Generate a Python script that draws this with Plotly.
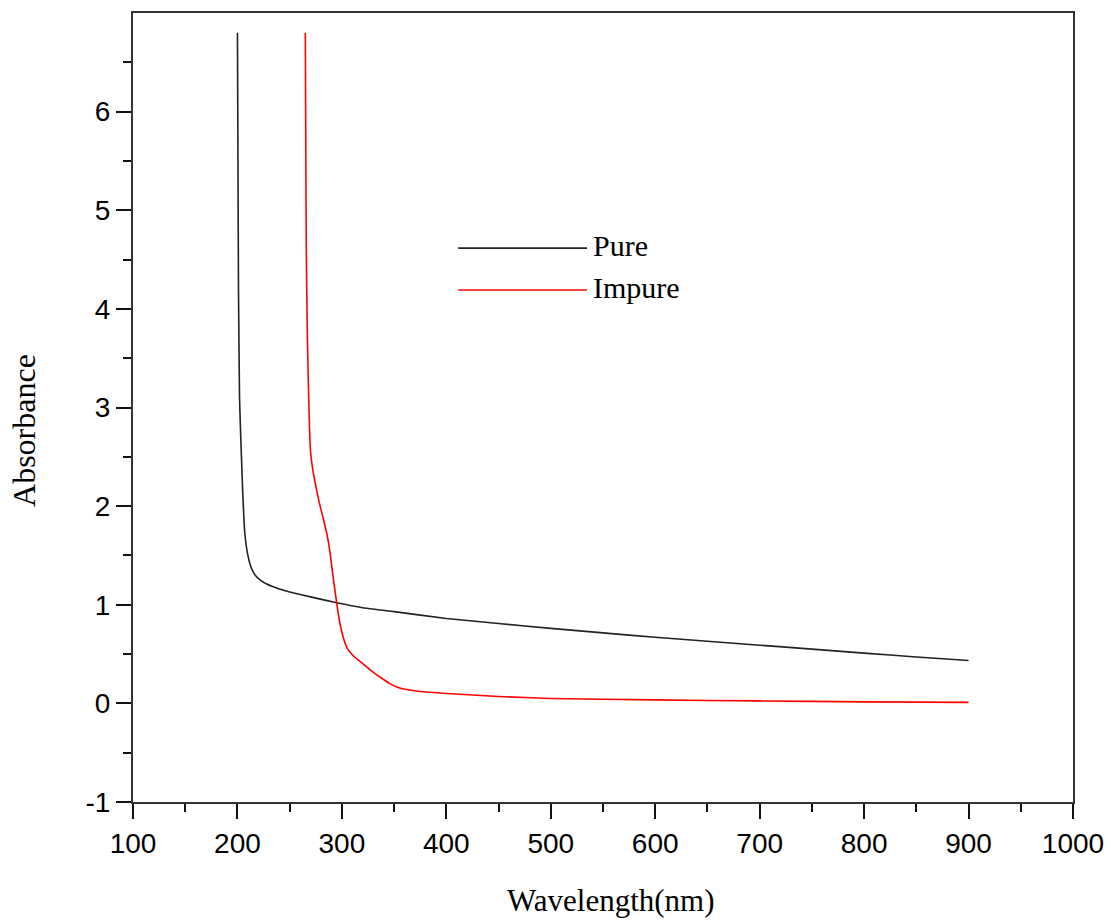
import plotly.graph_objects as go

wl_pure = [200, 200.5, 201, 202, 203, 204, 205, 207, 210, 213, 217, 222, 228, 240, 250,
           270, 295, 320, 350, 400, 450, 500, 550, 600, 650, 700, 750, 800, 850, 900]
abs_pure = [6.8, 5.5, 4.2, 3.1, 2.75, 2.45, 2.15, 1.73, 1.5, 1.38, 1.3, 1.25, 1.21, 1.16, 1.13,
            1.08, 1.02, 0.97, 0.93, 0.86, 0.81, 0.76, 0.715, 0.67, 0.63, 0.59, 0.55, 0.51, 0.47, 0.435]

wl_imp = [265, 265.5, 266, 267, 268, 269, 270, 272, 274, 278, 282, 286, 289, 292, 295, 298, 301,
          305, 311, 318, 327, 336, 346, 354, 362, 375, 400, 450, 500, 600, 700, 800, 900]
abs_imp = [6.8, 5.5, 4.5, 3.7, 3.2, 2.8, 2.55, 2.38, 2.26, 2.05, 1.88, 1.7, 1.5, 1.25, 1.02, 0.82, 0.68,
           0.56, 0.48, 0.42, 0.34, 0.27, 0.2, 0.16, 0.14, 0.12, 0.1, 0.07, 0.05, 0.035, 0.025, 0.015, 0.01]

x_ticks = [100, 200, 300, 400, 500, 600, 700, 800, 900, 1000]
x_minor = [150, 250, 350, 450, 550, 650, 750, 850, 950]
y_ticks = [-1, 0, 1, 2, 3, 4, 5, 6]
y_ticklabels = ["-1", "0", "1", "2", "3", "4", "5", "6"]
y_minor = [-0.5, 0.5, 1.5, 2.5, 3.5, 4.5, 5.5, 6.5]

x_title = "Wavelength(nm)"
y_title = "Absorbance"

series_names = ["Pure", "Impure"]
series_colors = ["#222222", "#ff0000"]

fig = go.Figure()
fig.add_trace(go.Scatter(x=wl_pure, y=abs_pure, mode="lines", name=series_names[0],
                         line=dict(color=series_colors[0], width=1.6, shape="spline", smoothing=0.4)))
fig.add_trace(go.Scatter(x=wl_imp, y=abs_imp, mode="lines", name=series_names[1],
                         line=dict(color=series_colors[1], width=1.6, shape="spline", smoothing=0.4)))

# custom legend (long sample lines)
leg_y = [0.702, 0.649]
for name, col, yy in zip(series_names, series_colors, leg_y):
    fig.add_shape(type="line", xref="paper", yref="paper", x0=0.346, x1=0.483, y0=yy, y1=yy,
                  line=dict(color=col, width=1.6))
    fig.add_annotation(xref="paper", yref="paper", x=0.487, y=yy + 0.003, text=name, showarrow=False,
                       xanchor="left", yanchor="middle",
                       font=dict(family="Liberation Serif", size=30, color="black"))

# axis titles
fig.add_annotation(xref="paper", yref="paper", x=0.508, y=-0.125, text=x_title, showarrow=False,
                   xanchor="center", yanchor="middle",
                   font=dict(family="Liberation Serif", size=31, color="black"))
fig.add_annotation(xref="paper", yref="paper", x=-0.116, y=0.4715, text=y_title, showarrow=False,
                   textangle=-90, xanchor="center", yanchor="middle",
                   font=dict(family="Liberation Serif", size=32, color="black"))

axis_common = dict(showline=True, linecolor="#333333", linewidth=2, mirror=True,
                   ticks="outside", ticklen=15, tickwidth=2, tickcolor="#111111",
                   showgrid=False, zeroline=False,
                   tickfont=dict(family="Liberation Sans", size=28, color="black"))

fig.update_xaxes(range=[100, 1000], tickvals=x_ticks,
                 minor=dict(ticks="outside", ticklen=8, tickwidth=2, tickvals=x_minor,
                            tickcolor="#111111", showgrid=False),
                 **axis_common)
fig.update_yaxes(range=[-1, 7], tickvals=y_ticks, ticktext=y_ticklabels,
                 minor=dict(ticks="outside", ticklen=8, tickwidth=2, tickvals=y_minor,
                            tickcolor="#111111", showgrid=False),
                 **axis_common)

fig.update_layout(width=1111, height=922, showlegend=False,
                  margin=dict(l=133, r=38, t=13, b=120, autoexpand=False),
                  plot_bgcolor="white", paper_bgcolor="white")

fig.write_html("out.html", config={"displayModeBar": False})
with open("out.html", "r", encoding="utf-8") as f:
    html = f.read()
html = html.replace("<head>", "<head><style>html,body{margin:0;padding:0;}</style>", 1)
with open("out.html", "w", encoding="utf-8") as f:
    f.write(html)
